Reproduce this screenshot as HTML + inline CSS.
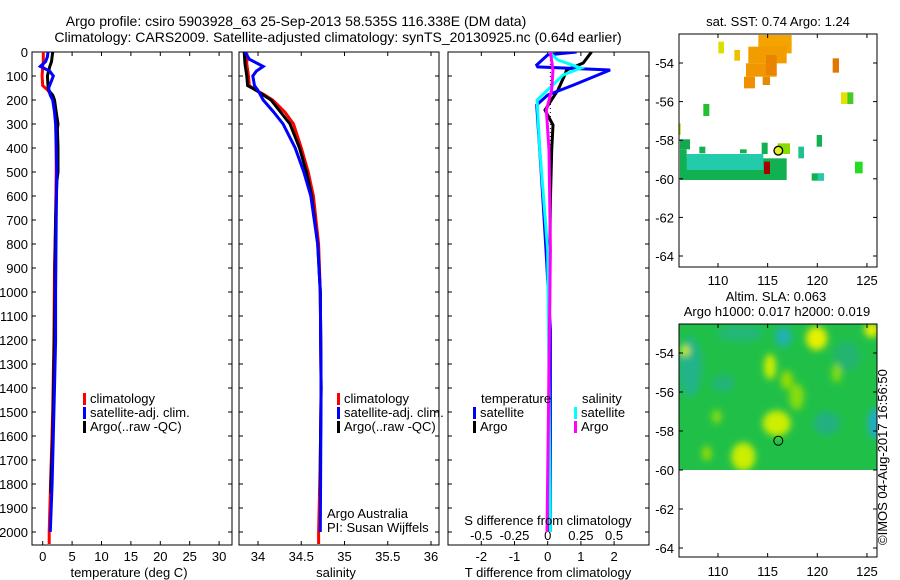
<!DOCTYPE html>
<html><head><meta charset="utf-8"><style>
html,body{margin:0;padding:0;background:#fff;}
svg{display:block;font-family:"Liberation Sans",sans-serif;}
text{font-size:13px;fill:#000;}
</style></head><body>
<svg id="fig" width="900" height="580" viewBox="0 0 900 580" xmlns="http://www.w3.org/2000/svg">
<defs>
<filter id="blur" x="-20%" y="-20%" width="140%" height="140%"><feGaussianBlur stdDeviation="10"/></filter>
<clipPath id="altclip"><rect x="679" y="324" width="198" height="146"/></clipPath>
<clipPath id="c1"><rect x="32" y="52" width="200" height="493"/></clipPath>
<clipPath id="c2"><rect x="239" y="52" width="200" height="493"/></clipPath>
<clipPath id="c3"><rect x="448" y="52" width="201" height="493"/></clipPath>
</defs>
<text x="296" y="26" text-anchor="middle" style="font-size:14px">Argo profile: csiro 5903928_63 25-Sep-2013 58.535S 116.338E (DM data)</text>
<text x="338" y="42" text-anchor="middle" style="font-size:14px">Climatology: CARS2009. Satellite-adjusted climatology: synTS_20130925.nc (0.64d earlier)</text>

<g id="p1"></g>
<g id="p2"></g>
<g id="p3"></g>

<g>
<text x="778" y="26" text-anchor="middle">sat. SST: 0.74  Argo: 1.24</text>
<g transform="translate(640,0) scale(0.33333)">
<rect x="355" y="105" width="100" height="55" fill="#f5a300"/>
<rect x="325" y="140" width="115" height="50" fill="#f29c00"/>
<rect x="318" y="190" width="92" height="40" fill="#f09600"/>
<rect x="312" y="230" width="33" height="35" fill="#f09000"/>
<rect x="368" y="230" width="22" height="25" fill="#e88a00"/>
<rect x="378" y="165" width="32" height="60" fill="#e88400"/>
<rect x="235" y="125" width="17" height="35" fill="#d8e000"/>
<rect x="283" y="150" width="17" height="32" fill="#f0c000"/>
<rect x="578" y="175" width="19" height="43" fill="#e07800"/>
<rect x="603" y="277" width="19" height="35" fill="#e8e000"/>
<rect x="622" y="277" width="18" height="35" fill="#44cc22"/>
<rect x="190" y="312" width="18" height="36" fill="#22c030"/>
<rect x="117" y="370" width="5" height="35" fill="#aadd00"/>
<rect x="120" y="475" width="320" height="65" fill="#11b050"/>
<rect x="140" y="462" width="230" height="48" fill="#22ccaa"/>
<rect x="120" y="418" width="30" height="30" fill="#11a850"/>
<rect x="178" y="440" width="18" height="20" fill="#11b050"/>
<rect x="300" y="448" width="20" height="12" fill="#11b050"/>
<rect x="120" y="448" width="20" height="30" fill="#11b050"/>
<rect x="372" y="485" width="18" height="37" fill="#aa0000"/>
<rect x="365" y="428" width="18" height="34" fill="#11b050"/>
<rect x="413" y="430" width="37" height="32" fill="#88dd00"/>
<rect x="530" y="405" width="16" height="35" fill="#11b050"/>
<rect x="475" y="440" width="17" height="35" fill="#22c090"/>
<rect x="515" y="520" width="37" height="22" fill="#11b050"/>
<rect x="533" y="520" width="19" height="22" fill="#22ccaa"/>
<rect x="645" y="485" width="23" height="35" fill="#22dd22"/>
<circle cx="415" cy="452" r="13" fill="#e0f020" stroke="#000" stroke-width="4"/>
</g>
<rect x="679" y="34" width="198" height="233" fill="none" stroke="#000" stroke-width="1"/>
<g id="sstaxes"></g>
</g>

<g>
<text x="776" y="301" text-anchor="middle">Altim. SLA: 0.063</text>
<text x="777" y="316" text-anchor="middle">Argo h1000: 0.017 h2000: 0.019</text>
<g clip-path="url(#altclip)">
<rect x="679" y="324" width="198" height="146" fill="#20c048"/>
<g transform="translate(640,290) scale(0.33333)" filter="url(#blur)">
<ellipse cx="150" cy="230" rx="35" ry="90" fill="#20b488"/>
<ellipse cx="300" cy="130" rx="70" ry="25" fill="#20b878"/>
<ellipse cx="430" cy="140" rx="25" ry="30" fill="#22b0b0"/>
<ellipse cx="705" cy="400" rx="20" ry="45" fill="#22aacc"/>
<ellipse cx="560" cy="400" rx="40" ry="35" fill="#20b080"/>
<ellipse cx="620" cy="200" rx="40" ry="45" fill="#20b470"/>
<ellipse cx="250" cy="280" rx="35" ry="25" fill="#20b478"/>
<ellipse cx="530" cy="145" rx="32" ry="35" fill="#e8f000"/>
<ellipse cx="695" cy="120" rx="22" ry="22" fill="#e8f000"/>
<ellipse cx="135" cy="182" rx="14" ry="16" fill="#ccee00"/>
<ellipse cx="390" cy="230" rx="18" ry="38" fill="#ccee00"/>
<ellipse cx="440" cy="270" rx="18" ry="28" fill="#99dd00"/>
<ellipse cx="470" cy="320" rx="22" ry="40" fill="#88dd10"/>
<ellipse cx="410" cy="400" rx="42" ry="38" fill="#ccee00"/>
<ellipse cx="310" cy="500" rx="36" ry="42" fill="#ccee00"/>
<ellipse cx="200" cy="490" rx="14" ry="22" fill="#99dd00"/>
<ellipse cx="590" cy="250" rx="14" ry="28" fill="#88dd10"/>
<ellipse cx="230" cy="380" rx="15" ry="20" fill="#88dd10"/>
</g>
</g>
<circle cx="778.3" cy="440.7" r="4.5" fill="none" stroke="#000" stroke-width="1"/>
<rect x="679" y="324" width="198" height="233" fill="none" stroke="#000" stroke-width="1"/>
<g id="altaxes"></g>
</g>
<text transform="translate(887,545) rotate(-90)">©IMOS 04-Aug-2017 16:56:50</text>
</svg>
<script>
const NS="http://www.w3.org/2000/svg";
const depthTicks=[0,100,200,300,400,500,600,700,800,900,1000,1100,1200,1300,1400,1500,1600,1700,1800,1900,2000];
const tempTicks=[0,5,10,15,20,25,30];
const salTicks=[34,34.5,35,35.5,36];
const salTickLabels=["34","34.5","35","35.5","36"];
const tdiffTicks=[-2,-1,0,1,2];
const sdiffTicks=[-0.5,-0.25,0,0.25,0.5];
const sdiffTickLabels=["-0.5","-0.25","0","0.25","0.5"];

const tClimDepth=[0,40,60,100,140,160,180,200,250,300,400,500,700,900,1200,1500,1750,2000,2050];
const tClimVal=[0.1,0.1,0.0,-0.1,0.0,0.9,1.4,1.8,2.1,2.3,2.3,2.3,2.2,2.0,1.9,1.7,1.4,1.1,1.1];
const tArgoDepth=[0,20,40,60,100,140,160,180,200,250,300,320,400,500,540,700,900,1000,1300,1600,1800,1840];
const tArgoVal=[1.7,1.6,1.5,1.2,0.8,0.9,1.0,1.7,2.0,2.3,2.6,2.5,2.6,2.6,2.4,2.2,2.1,2.1,1.9,1.7,1.4,1.4];
const tSatDepth=[0,20,40,60,80,100,120,150,180,200,250,300,400,500,700,1000,1200,1400,1600,1800,2000];
const tSatVal=[0.9,0.8,0.5,-0.4,1.2,1.8,1.5,1.0,1.3,1.7,2.0,2.2,2.3,2.4,2.3,2.2,2.2,2.0,1.8,1.6,1.3];

const sClimDepth=[0,50,100,140,160,175,200,250,300,400,500,600,800,1000,1400,1700,2000,2050];
const sClimVal=[33.87,33.87,33.89,33.9,33.98,34.06,34.17,34.31,34.41,34.5,34.58,34.64,34.70,34.72,34.73,34.72,34.70,34.70];
const sArgoDepth=[0,50,100,140,160,200,250,300,400,500,600,800,1000,1400,1700,1850];
const sArgoVal=[33.84,33.85,33.87,33.88,33.98,34.15,34.26,34.37,34.48,34.56,34.62,34.69,34.72,34.73,34.72,34.72];
const sSatDepth=[0,30,60,80,100,140,160,200,250,300,400,500,600,800,1000,1400,2000];
const sSatVal=[33.85,33.9,34.06,33.98,33.94,33.96,34.0,34.06,34.18,34.29,34.43,34.53,34.61,34.69,34.72,34.73,34.72];

const dTArgoDepth=[0,46,75,100,158,242,304,408,617,900,1400,2000];
const dTArgoVal=[1.32,1.07,0.57,0.5,0.31,-0.08,0.16,0.12,0.08,0.06,0.05,0.05];
const dTSatDepth=[0,12,54,62,75,138,179,221,325,533,825,1158,2000];
const dTSatVal=[0.87,0,-0.33,-0.3,1.88,0.77,0,-0.33,-0.28,-0.18,-0.05,0.08,0.08];
const dSSatDepth=[0,33,67,96,158,200,400,825,2000];
const dSSatVal=[0.01,0.075,0.25,0.115,0,-0.08,-0.06,0,0.02];
const dSArgoDepth=[0,75,158,242,408,825,2000];
const dSArgoVal=[0.02,0.04,0.03,-0.01,0.01,0.02,-0.005];

const mapLonTicks=[110,115,120,125];
const mapLatTicks=[-54,-56,-58,-60,-62,-64];

const yD=d=>52+d*0.24;
const xT=v=>42.7+v*5.88;
const xS=v=>258+(v-34)*86.5;
const xDT=v=>547.7+v*33.2;
const xDS=v=>547.7+v*132.8;
const mx=lon=>718+(lon-110)*9.93;
const myTop=lat=>63+(-54-lat)*19.3;
const myBot=lat=>353+(-54-lat)*19.5;

function el(tag,attrs,parent,txt){const e=document.createElementNS(NS,tag);for(const k in attrs)e.setAttribute(k,attrs[k]);if(txt!==undefined)e.textContent=txt;parent.appendChild(e);return e;}

function frame(g,x0,x1){
  const r=el('rect',{x:x0,y:52,width:x1-x0,height:493,fill:'none',stroke:'#000','stroke-width':1},g);
  
  
  depthTicks.forEach(d=>{
    el('line',{x1:x1-4,x2:x1,y1:yD(d),y2:yD(d),stroke:'#000'},g);
    el('line',{x1:x0,x2:x0+4,y1:yD(d),y2:yD(d),stroke:'#000'},g);
  });
}
function xticks(g,vals,f,labels,y){
  vals.forEach((v,i)=>{
    el('line',{x1:f(v),x2:f(v),y1:545,y2:541,stroke:'#000'},g);
    el('line',{x1:f(v),x2:f(v),y1:52,y2:56,stroke:'#000'},g);
    const t=el('text',{x:f(v),y:y,'text-anchor':'middle'},g,labels[i]);
    
    
  });
}
function profile(g,depths,vals,f,color,name,w){
  const pts=depths.map((d,i)=>f(vals[i]).toFixed(1)+','+yD(d).toFixed(1)).join(' ');
  const p=el('polyline',{points:pts,fill:'none',stroke:color,'stroke-width':w||3},g);
  
  
}
function legend(g,x,y,color,label){
  el('rect',{x:x,y:y-10,width:3,height:12,fill:color},g);
  const t=el('text',{x:x+7,y:y},g,label);
  
  
}

const p1=document.getElementById('p1');
frame(p1,32,232);
depthTicks.forEach(d=>{const t=el('text',{x:28,y:yD(d)+5,'text-anchor':'end'},p1,String(d));

});
xticks(p1,tempTicks,xT,tempTicks.map(String),561);
const g1=el('g',{'clip-path':'url(#c1)'},p1);
profile(g1,tClimDepth,tClimVal,xT,'#ff0000','temp-climatology-line');
profile(g1,tArgoDepth,tArgoVal,xT,'#000000','temp-argo-line');
profile(g1,tSatDepth,tSatVal,xT,'#0000ff','temp-satellite-line');
legend(p1,83,403,'#ff0000','climatology');
legend(p1,83,417,'#0000ff','satellite-adj. clim.');
legend(p1,83,431,'#000000','Argo(..raw -QC)');
let t1=el('text',{x:129,y:577,'text-anchor':'middle'},p1,'temperature (deg C)');



const p2=document.getElementById('p2');
frame(p2,239,439);
xticks(p2,salTicks,xS,salTickLabels,561);
const g2=el('g',{'clip-path':'url(#c2)'},p2);
profile(g2,sClimDepth,sClimVal,xS,'#ff0000','sal-climatology-line');
profile(g2,sArgoDepth,sArgoVal,xS,'#000000','sal-argo-line');
profile(g2,sSatDepth,sSatVal,xS,'#0000ff','sal-satellite-line');
legend(p2,337,403,'#ff0000','climatology');
legend(p2,337,417,'#0000ff','satellite-adj. clim.');
legend(p2,337,431,'#000000','Argo(..raw -QC)');
let t2=el('text',{x:327,y:518},p2,'Argo Australia');


let t3=el('text',{x:327,y:532},p2,'PI: Susan Wijffels');


let t4=el('text',{x:336,y:577,'text-anchor':'middle'},p2,'salinity');



const p3=document.getElementById('p3');
frame(p3,448,649);
xticks(p3,tdiffTicks,xDT,tdiffTicks.map(String),561);
sdiffTicks.forEach((v,i)=>{const t=el('text',{x:xDS(v),y:540,'text-anchor':'middle'},p3,sdiffTickLabels[i]);

});
const g3=el('g',{'clip-path':'url(#c3)'},p3);
el('line',{x1:xDT(0.08),x2:xDT(0.08),y1:52,y2:532,stroke:'#000','stroke-dasharray':'1,3'},g3);
profile(g3,dTArgoDepth,dTArgoVal,xDT,'#000000','tdiff-argo-line');
profile(g3,dTSatDepth,dTSatVal,xDT,'#0000ff','tdiff-satellite-line');
profile(g3,dSSatDepth,dSSatVal,xDS,'#00ffff','sdiff-satellite-line');
profile(g3,dSArgoDepth,dSArgoVal,xDS,'#ff00ff','sdiff-argo-line');
let t5=el('text',{x:481,y:403},p3,'temperature');


let t6=el('text',{x:582,y:403},p3,'salinity');


legend(p3,473,417,'#0000ff','satellite');
legend(p3,473,431,'#000000','Argo');
legend(p3,574,417,'#00ffff','satellite');
legend(p3,574,431,'#ff00ff','Argo');
let t7=el('text',{x:548,y:525,'text-anchor':'middle'},p3,'S difference from climatology');


let t8=el('text',{x:548,y:577,'text-anchor':'middle'},p3,'T difference from climatology');



function mapAxes(g,top,bot,fy,labelY){
  mapLonTicks.forEach(v=>{
    el('line',{x1:mx(v),x2:mx(v),y1:bot,y2:bot-4,stroke:'#000'},g);
    el('line',{x1:mx(v),x2:mx(v),y1:top,y2:top+4,stroke:'#000'},g);
    const t=el('text',{x:mx(v),y:labelY,'text-anchor':'middle'},g,String(v));
    
    
  });
  mapLatTicks.forEach(v=>{
    el('line',{x1:679,x2:683,y1:fy(v),y2:fy(v),stroke:'#000'},g);
    el('line',{x1:877,x2:873,y1:fy(v),y2:fy(v),stroke:'#000'},g);
    const t=el('text',{x:674,y:fy(v)+5,'text-anchor':'end'},g,String(v));
    
    
  });
}
mapAxes(document.getElementById('sstaxes'),34,267,myTop,285);
mapAxes(document.getElementById('altaxes'),324,557,myBot,576);
</script>
</body></html>
